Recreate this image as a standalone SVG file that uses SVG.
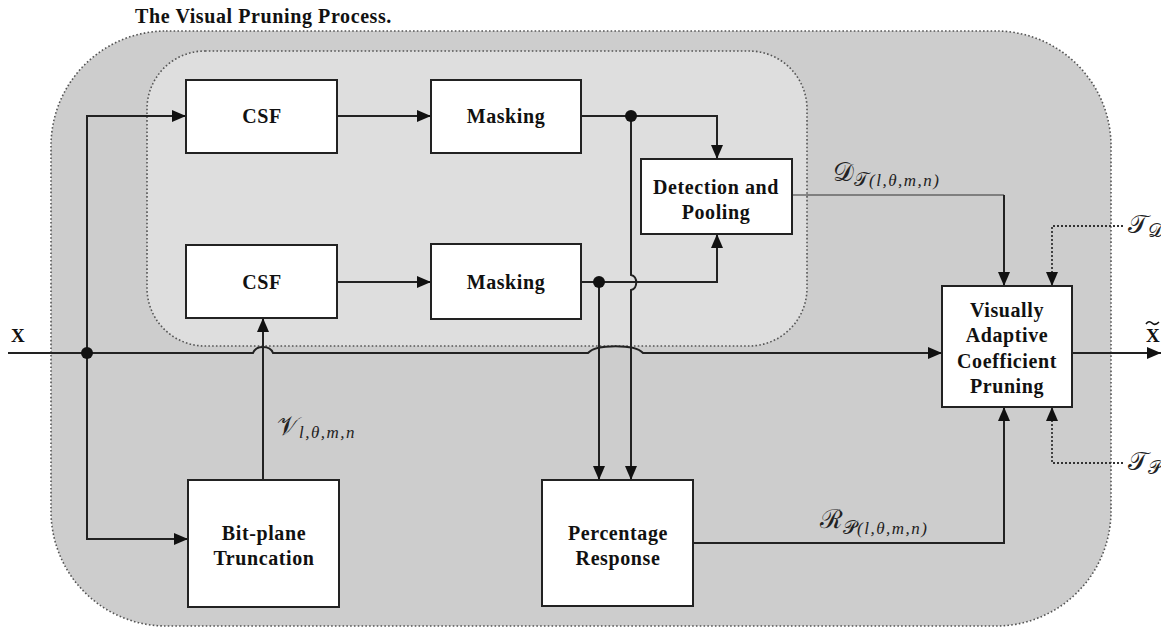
<svg xmlns="http://www.w3.org/2000/svg" width="1161" height="629" viewBox="0 0 1161 629">
<defs>
<marker id="ah" markerUnits="userSpaceOnUse" markerWidth="16" markerHeight="14" refX="14" refY="6" orient="auto">
<path d="M0,0 L14,6 L0,12 z" fill="#111"/>
</marker>
<style>
.zone{stroke:#555;stroke-width:1.6;stroke-dasharray:1.6 2.2}
.box{fill:#fff;stroke:#222;stroke-width:2}
.lbl{font-family:'Liberation Serif',serif;font-weight:bold;font-size:20px;fill:#111;text-anchor:middle;letter-spacing:0.6px}
.ln{fill:none;stroke:#222;stroke-width:2}
.thin{fill:none;stroke:#333;stroke-width:1.2}
.dot{fill:none;stroke:#333;stroke-width:1.8;stroke-dasharray:2 2}
.m{font-family:'DejaVu Serif','Liberation Serif',serif;fill:#222}
.s{font-family:'Liberation Serif',serif;font-style:italic;font-size:17px;letter-spacing:1.5px}
</style>
</defs>
<rect width="1161" height="629" fill="#fff"/>
<text x="135" y="23" font-family="Liberation Serif, serif" font-weight="bold" font-size="20" letter-spacing="0.6" fill="#111">The Visual Pruning Process.</text>
<g id="outer"><rect class="zone" x="51" y="31" width="1060" height="595" rx="115" ry="115" fill="#cdcdcd"/></g>
<g id="inner"><rect class="zone" x="147" y="51" width="660" height="295" rx="58" ry="58" fill="#dedede"/></g>

<g id="connectors">
<path class="ln" d="M8,353 H253 C256,345 270,345 273,353 H588 C596,344 635,344 643,353 H942" marker-end="url(#ah)"/>
<path class="ln" d="M87,353 V116 H186" marker-end="url(#ah)"/>
<path class="ln" d="M87,353 V539 H188" marker-end="url(#ah)"/>
<path class="ln" d="M263,480 V318" marker-end="url(#ah)"/>
<path class="ln" d="M337,116 H431" marker-end="url(#ah)"/>
<path class="ln" d="M337,282 H431" marker-end="url(#ah)"/>
<path class="ln" d="M581,116 H717 V159" marker-end="url(#ah)"/>
<path class="ln" d="M631,116 V275 C638,276 638,289 631,290 V480" marker-end="url(#ah)"/>
<path class="ln" d="M581,282 H717 V234" marker-end="url(#ah)"/>
<path class="ln" d="M599,282 V480" marker-end="url(#ah)"/>
<path class="thin" d="M792,195 H1004"/>
<path class="ln" d="M1004,195 V286" marker-end="url(#ah)"/>
<path class="ln" d="M693,543 H1004 V407" marker-end="url(#ah)"/>
<path class="ln" d="M1072,353 H1161" marker-end="url(#ah)"/>
<path class="dot" d="M1123,226 H1052 V286" marker-end="url(#ah)"/>
<path class="dot" d="M1123,463 H1052 V407" marker-end="url(#ah)"/>
<circle cx="87" cy="353" r="6" fill="#111"/>
<circle cx="631" cy="116" r="6" fill="#111"/>
<circle cx="599" cy="282" r="6" fill="#111"/>
</g>

<g id="csf1"><rect class="box" x="186" y="80" width="151" height="73"/><text class="lbl" x="262" y="123">CSF</text></g>
<g id="mask1"><rect class="box" x="431" y="80" width="150" height="73"/><text class="lbl" x="506" y="123">Masking</text></g>
<g id="csf2"><rect class="box" x="186" y="245" width="151" height="73"/><text class="lbl" x="262" y="289">CSF</text></g>
<g id="mask2"><rect class="box" x="431" y="244" width="150" height="75"/><text class="lbl" x="506" y="289">Masking</text></g>
<g id="detect"><rect class="box" x="641" y="159" width="151" height="75"/><text class="lbl" x="716" y="194">Detection and</text><text class="lbl" x="716" y="219">Pooling</text></g>
<g id="vacp"><rect class="box" x="942" y="286" width="130" height="121"/><text class="lbl" x="1007" y="317">Visually</text><text class="lbl" x="1007" y="342">Adaptive</text><text class="lbl" x="1007" y="368">Coefficient</text><text class="lbl" x="1007" y="393">Pruning</text></g>
<g id="bitplane"><rect class="box" x="188" y="480" width="151" height="127"/><text class="lbl" x="264" y="540">Bit-plane</text><text class="lbl" x="264" y="565">Truncation</text></g>
<g id="percent"><rect class="box" x="542" y="480" width="151" height="126"/><text class="lbl" x="618" y="540">Percentage</text><text class="lbl" x="618" y="565">Response</text></g>

<g id="labels">
<text x="11" y="342" font-family="Liberation Serif, serif" font-weight="bold" font-size="19" fill="#111">X</text>
<text x="1146" y="342" font-family="Liberation Serif, serif" font-weight="bold" font-size="19" fill="#111">X</text>
<path d="M1146,324 q3,-4 6,-1 t7,-1" fill="none" stroke="#111" stroke-width="1.6"/>
<text class="m" x="833" y="181" font-size="26">𝒟<tspan font-size="19" dy="5">𝒯</tspan><tspan class="s">(l,θ,m,n)</tspan></text>
<text class="m" x="820" y="528" font-size="26">ℛ<tspan font-size="19" dy="6">𝒫</tspan><tspan class="s">(l,θ,m,n)</tspan></text>
<text class="m" x="277" y="435" font-size="26">𝒱<tspan class="s" dy="3">l,θ,m,n</tspan></text>
<text class="m" x="1128" y="233" font-size="26">𝒯<tspan font-size="19" dy="4">𝒟</tspan></text>
<text class="m" x="1128" y="470" font-size="26">𝒯<tspan font-size="19" dy="4">𝒫</tspan></text>
</g>
</svg>
